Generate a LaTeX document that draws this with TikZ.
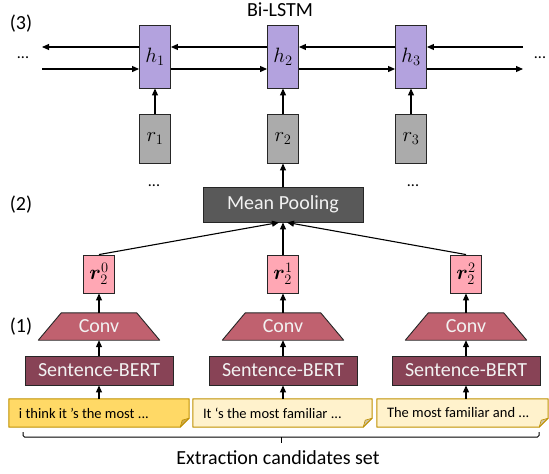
\documentclass[tikz,border=0pt]{standalone}
\usepackage{amsmath}
\usepackage{bm}
\usepackage{fontspec}
\setmainfont{Carlito}
\usetikzlibrary{arrows.meta,shapes.geometric,backgrounds}
\definecolor{hcol}{HTML}{B3A2DE}
\definecolor{rcol}{HTML}{ABABAB}
\definecolor{mpcol}{HTML}{595959}
\definecolor{pkcol}{HTML}{FFA7B4}
\definecolor{convcol}{HTML}{C0616F}
\definecolor{sbcol}{HTML}{884356}
\definecolor{noteA}{HTML}{FFD966}
\definecolor{noteB}{HTML}{FFF2CC}
\definecolor{noteline}{HTML}{BF9000}
\definecolor{foldA}{HTML}{CBAA4E}
\definecolor{foldB}{HTML}{CFC3A2}
\definecolor{lighttext}{HTML}{F2F2F2}
\newcommand\drawnote[3]{%
  \fill[#2] (#1.north west) -- (#1.north east) -- ([yshift=9pt]#1.south east) -- ([xshift=-9pt]#1.south east) -- (#1.south west) -- cycle;
  \fill[#3] ([yshift=9pt]#1.south east) -- ([xshift=-9pt]#1.south east) -- ([xshift=-7pt,yshift=7pt]#1.south east) -- cycle;
  \draw[noteline, line width=1pt, line join=round] (#1.north west) -- (#1.north east) -- ([yshift=9pt]#1.south east) -- ([xshift=-9pt]#1.south east) -- (#1.south west) -- cycle;
  \draw[noteline, line width=0.6pt, line join=round] ([yshift=9pt]#1.south east) -- ([xshift=-7pt,yshift=7pt]#1.south east) -- ([xshift=-9pt]#1.south east);
}
\newcommand\drawconv[1]{%
  \filldraw[fill=convcol, draw=black!85, line width=0.9pt, line join=round]
    (#1.south west) -- (#1.south east) -- ([xshift=-23pt]#1.north east) -- ([xshift=23pt]#1.north west) -- cycle;
}
\tikzset{
  box/.style={draw=black!85, line width=0.9pt, inner sep=0pt},
  hbox/.style={box, fill=hcol, minimum width=31pt, minimum height=63pt, font=\fontsize{21}{24}\selectfont},
  rbox/.style={box, fill=rcol, minimum width=31pt, minimum height=49pt, font=\fontsize{21}{24}\selectfont},
  pbox/.style={box, fill=pkcol, minimum width=31pt, minimum height=38pt, font=\fontsize{20}{23}\selectfont},
  mpbox/.style={box, fill=mpcol, text=lighttext, minimum width=160pt, minimum height=35pt},
  sbbox/.style={box, fill=sbcol, text=lighttext, minimum width=148pt, minimum height=29pt},
  convbox/.style={inner sep=0pt, text=lighttext, minimum width=121pt, minimum height=27pt},
  notebox/.style={inner ysep=0pt, inner xsep=10pt, minimum height=28pt,
    font=\fontsize{14.5}{17}\selectfont},
  arr/.style={line width=1.1pt, -{Triangle[length=7pt,width=6pt]}},
  lbl/.style={inner sep=0pt},
  dots/.style={inner sep=0pt, font=\fontsize{16}{19}\selectfont}
}
\begin{document}
\begin{tikzpicture}[x=1pt,y=-1pt, font=\fontsize{20}{24}\selectfont]
\useasboundingbox (0,0) rectangle (549,474);
% labels
\node[lbl] (title) at (280,10) {Bi-LSTM};
\node[lbl] (s3) at (21,24) {(3)};
\node[lbl] (s2) at (21,205) {(2)};
\node[lbl] (s1) at (21,327) {(1)};
% Bi-LSTM
\node[hbox] (h1) at (155,56.5) {$h_1$};
\node[hbox] (h2) at (283,56.5) {$h_2$};
\node[hbox] (h3) at (411,56.5) {$h_3$};
\node[rbox] (r1) at (155,138.5) {$r_1$};
\node[rbox] (r2) at (283,138.5) {$r_2$};
\node[rbox] (r3) at (411,138.5) {$r_3$};
\node[dots] (dl) at (23,58) {...};
\node[dots] (dr) at (540,58) {...};
\node[dots] (dml) at (154,186) {...};
\node[dots] (dmr) at (413,186) {...};
\coordinate (L1) at (42,47);
\coordinate (L2) at (42,69);
\coordinate (R1) at (523,47);
\coordinate (R2) at (523,69);
\draw[arr] (R1) -- ([yshift=9.5pt]h3.east);
\draw[arr] ([yshift=9.5pt]h3.west) -- ([yshift=9.5pt]h2.east);
\draw[arr] ([yshift=9.5pt]h2.west) -- ([yshift=9.5pt]h1.east);
\draw[arr] ([yshift=9.5pt]h1.west) -- (L1);
\draw[arr] (L2) -- ([yshift=-12.5pt]h1.west);
\draw[arr] ([yshift=-12.5pt]h1.east) -- ([yshift=-12.5pt]h2.west);
\draw[arr] ([yshift=-12.5pt]h2.east) -- ([yshift=-12.5pt]h3.west);
\draw[arr] ([yshift=-12.5pt]h3.east) -- (R2);
\draw[arr] (r1.north) -- (h1.south);
\draw[arr] (r2.north) -- (h2.south);
\draw[arr] (r3.north) -- (h3.south);
% mean pooling
\node[mpbox] (mp) at (283,204.5) {Mean Pooling};
\draw[arr] (mp.north) -- (r2.south);
\node[pbox] (p0) at (99,274) {$\bm{r}_2^0$};
\node[pbox] (p1) at (283,274) {$\bm{r}_2^1$};
\node[pbox] (p2) at (466,274) {$\bm{r}_2^2$};
\draw[arr] (p0.north) -- ([xshift=-4pt]mp.south);
\draw[arr] (p1.north) -- (mp.south);
\draw[arr] (p2.north) -- ([xshift=4pt]mp.south);
% conv
\node[convbox] (c0) at (99,326.5) {Conv};
\node[convbox] (c1) at (283,326.5) {Conv};
\node[convbox] (c2) at (466,326.5) {Conv};
\draw[arr] (c0.north) -- (p0.south);
\draw[arr] (c1.north) -- (p1.south);
\draw[arr] (c2.north) -- (p2.south);
% sentence-bert
\node[sbbox] (b0) at (99,370.5) {Sentence-BERT};
\node[sbbox] (b1) at (283,370.5) {Sentence-BERT};
\node[sbbox] (b2) at (466,370.5) {Sentence-BERT};
\draw[arr] (b0.north) -- (c0.south);
\draw[arr] (b1.north) -- (c1.south);
\draw[arr] (b2.north) -- (c2.south);
% notes
\node[notebox] (n0) at (99,413) {\makebox[160pt][l]{i think it 's the most ...}};
\node[notebox] (n1) at (282.5,413) {\makebox[159pt][l]{It ‘s the most familiar ...}};
\node[notebox] (n2) at (462.5,413) {\makebox[151pt][l]{The most familiar and ...}};
\begin{scope}[on background layer]
  \drawconv{c0}
  \drawconv{c1}
  \drawconv{c2}
  \drawnote{n0}{noteA}{foldA}
  \drawnote{n1}{noteB}{foldB}
  \drawnote{n2}{noteB}{foldB}
\end{scope}
\draw[arr] (n0.north -| b0) -- (b0.south);
\draw[arr] (n1.north -| b1) -- (b1.south);
\draw[arr] (n2.north -| b2) -- (b2.south);
% brace
\draw[line width=1pt, rounded corners=1.5pt] (23,432) -- (23,437) -- (539,437) -- (539,432);
\draw[line width=1pt] (281,437) -- (281,443);
\node[lbl] (ecs) at (278,458) {Extraction candidates set};
\end{tikzpicture}
\end{document}
